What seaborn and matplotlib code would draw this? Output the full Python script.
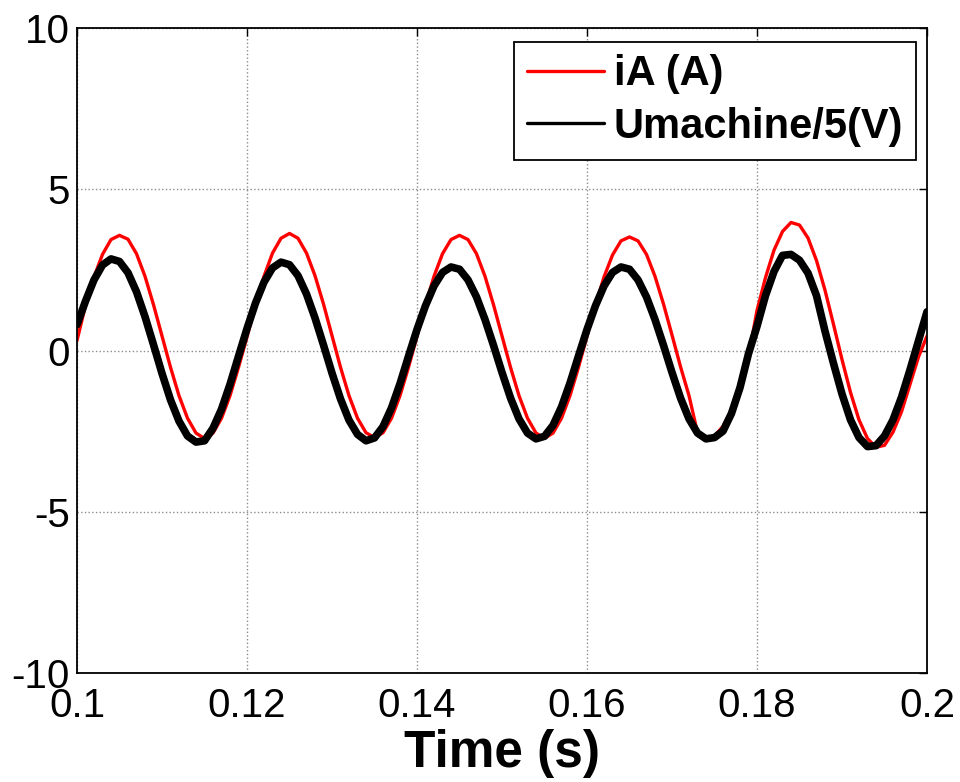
import numpy as np
import pandas as pd
import matplotlib
matplotlib.use("Agg")
import matplotlib.pyplot as plt
import seaborn as sns
from matplotlib.lines import Line2D

time_s = [round(0.100 + 0.001 * i, 3) for i in range(101)]

ia_amp = [
    # 0.100 - 0.119
    0.31, 1.40, 2.28, 2.98, 3.44, 3.57, 3.45, 3.00, 2.30, 1.42,
    0.45, -0.52, -1.40, -2.10, -2.56, -2.73, -2.56, -2.10, -1.40, -0.52,
    # 0.120 - 0.139
    0.42, 1.42, 2.30, 3.02, 3.48, 3.63, 3.48, 3.02, 2.32, 1.44,
    0.46, -0.52, -1.40, -2.10, -2.55, -2.70, -2.55, -2.10, -1.40, -0.52,
    # 0.140 - 0.159
    0.44, 1.42, 2.30, 3.00, 3.44, 3.57, 3.44, 3.00, 2.30, 1.42,
    0.45, -0.52, -1.40, -2.10, -2.56, -2.72, -2.56, -2.10, -1.40, -0.52,
    # 0.160 - 0.179
    0.44, 1.40, 2.28, 2.96, 3.40, 3.52, 3.40, 2.98, 2.30, 1.44,
    0.48, -0.50, -1.40, -2.55, -2.70, -2.65, -2.35, -1.85, -1.10, -0.20,
    # 0.180 - 0.200
    1.24, 2.26, 3.11, 3.69, 3.97, 3.89, 3.49, 2.79, 1.87, 0.81,
    -0.28, -1.30, -2.15, -2.73, -3.00, -2.94, -2.53, -1.90, -1.05, -0.20,
    0.45,
]

umachine_div5 = [
    # 0.100 - 0.119
    0.80, 1.53, 2.19, 2.65, 2.84, 2.76, 2.41, 1.82, 1.05, 0.18,
    -0.71, -1.53, -2.19, -2.65, -2.84, -2.80, -2.41, -1.82, -1.05, -0.18,
    # 0.120 - 0.139
    0.68, 1.47, 2.12, 2.56, 2.74, 2.66, 2.32, 1.75, 1.01, 0.17,
    -0.70, -1.50, -2.16, -2.60, -2.80, -2.71, -2.36, -1.78, -1.03, -0.18,
    # 0.140 - 0.159
    0.65, 1.39, 2.00, 2.42, 2.59, 2.52, 2.19, 1.66, 0.96, 0.16,
    -0.68, -1.47, -2.12, -2.56, -2.74, -2.66, -2.32, -1.75, -1.01, -0.17,
    # 0.160 - 0.179
    0.65, 1.39, 2.00, 2.42, 2.59, 2.52, 2.19, 1.66, 0.96, 0.16,
    -0.68, -1.47, -2.12, -2.56, -2.74, -2.70, -2.50, -1.95, -1.15, -0.10,
    # 0.180 - 0.200
    0.75, 1.70, 2.45, 2.95, 2.98, 2.80, 2.40, 1.70, 0.60, -0.40,
    -1.35, -2.15, -2.70, -2.98, -2.95, -2.65, -2.15, -1.45, -0.60, 0.30,
    1.20,
]

series_labels = ["iA (A)", "Umachine/5(V)"]
x_ticks = [0.1, 0.12, 0.14, 0.16, 0.18, 0.2]
x_tick_labels = ["0.1", "0.12", "0.14", "0.16", "0.18", "0.2"]
y_ticks = [-10, -5, 0, 5, 10]
y_tick_labels = ["-10", "-5", "0", "5", "10"]

# ---- plotting ----
sns.set_style("white")
plt.rcParams["font.family"] = ["Liberation Sans", "DejaVu Sans"]
plt.rcParams["text.color"] = "black"
plt.rcParams["axes.labelcolor"] = "black"

df = pd.DataFrame({
    "t": time_s * 2,
    "v": ia_amp + umachine_div5,
    "s": [series_labels[0]] * len(time_s) + [series_labels[1]] * len(time_s),
})

fig = plt.figure(figsize=(9.6, 7.82), dpi=100)
ax = fig.add_axes([77 / 960, 1 - 673 / 782, 850 / 960, 645 / 782])

sns.lineplot(data=df[df.s == series_labels[1]], x="t", y="v", color="black",
             linewidth=5.5, ax=ax, zorder=3)
sns.lineplot(data=df[df.s == series_labels[0]], x="t", y="v", color="red",
             linewidth=2.4, ax=ax, zorder=2)

ax.set_xlim(0.1, 0.2)
ax.set_ylim(-10, 10)
ax.set_xticks(x_ticks)
ax.set_xticklabels(x_tick_labels)
ax.set_yticks(y_ticks)
ax.set_yticklabels(y_tick_labels)
ax.grid(True, color="#8c8c8c", linestyle=":", linewidth=1.0)
ax.tick_params(direction="in", length=6, width=1.0, top=True, right=True,
               labelsize=29, colors="black")
ax.tick_params(axis="x", pad=10)
ax.tick_params(axis="y", pad=5)
for sp in ax.spines.values():
    sp.set_visible(True)
    sp.set_color("black")
    sp.set_linewidth(1.3)
ax.set_xlabel("Time (s)", fontsize=37, fontweight="bold", labelpad=3,
              color="black")
ax.set_ylabel("")

leg_handles = [Line2D([], [], color="red", linewidth=2.4),
               Line2D([], [], color="black", linewidth=2.4)]
leg = ax.legend(leg_handles, series_labels, loc="upper right",
                bbox_to_anchor=(916 / 960, 1 - 42 / 782),
                bbox_transform=fig.transFigure, borderaxespad=0,
                fancybox=False, framealpha=1, edgecolor="black",
                prop={"weight": "bold", "size": 30},
                handlelength=1.85, handletextpad=0.25, labelspacing=0.3,
                borderpad=0.3)
leg.get_frame().set_linewidth(1.3)
for txt in leg.get_texts():
    txt.set_color("black")

fig.savefig("out.png", dpi=100)
